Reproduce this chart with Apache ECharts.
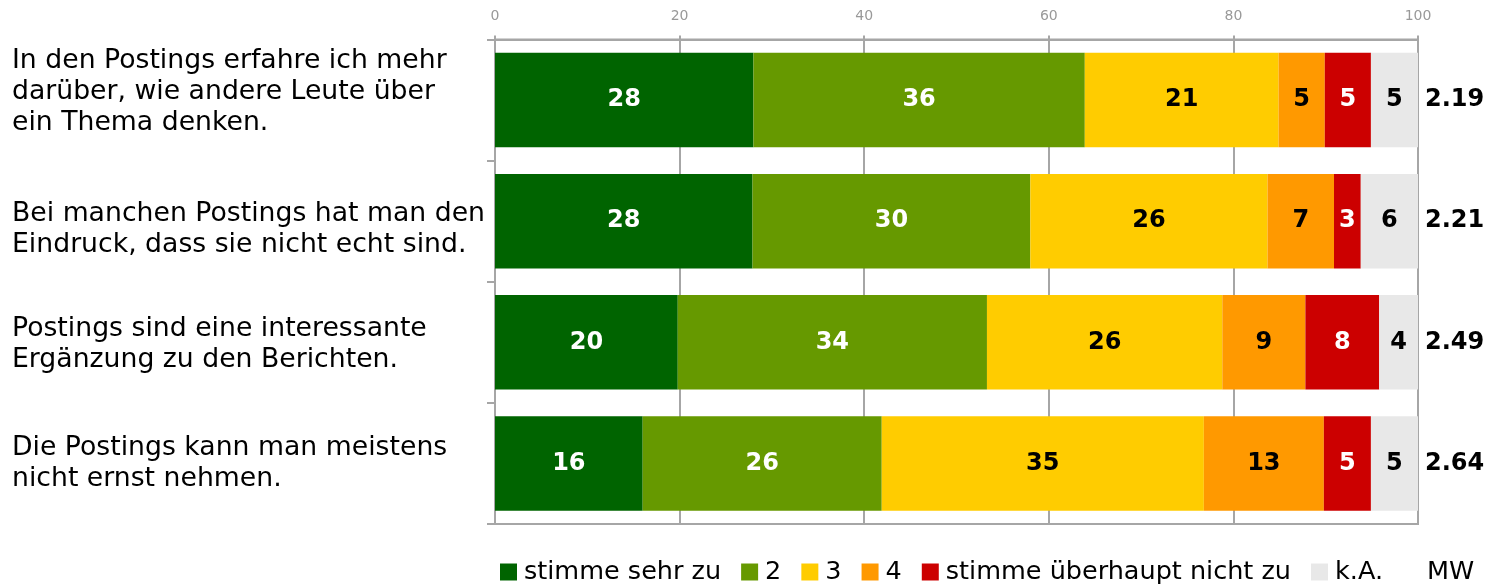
<!DOCTYPE html>
<html>
<head>
<meta charset="utf-8">
<script src="https://cdn.jsdelivr.net/npm/echarts@6/dist/echarts.min.js"></script>
<style>
html,body{margin:0;padding:0;background:#fff;}
#chart{width:1497px;height:588px;}
</style>
</head>
<body>
<div id="chart"></div>
<script>
// ---- data ----
const categories = [
  "In den Postings erfahre ich mehr\ndarüber, wie andere Leute über\nein Thema denken.",
  "Bei manchen Postings hat man den\nEindruck, dass sie nicht echt sind.",
  "Postings sind eine interessante\nErgänzung zu den Berichten.",
  "Die Postings kann man meistens\nnicht ernst nehmen."
];
const seriesNames = ["stimme sehr zu", "2", "3", "4", "stimme überhaupt nicht zu", "k.A."];
const s1 = [28, 27.9, 19.8, 16];
const s2 = [35.9, 30.1, 33.5, 25.9];
const s3 = [21, 25.7, 25.5, 34.9];
const s4 = [5, 7.2, 9.0, 13];
const s5 = [5, 2.9, 8.0, 5.1];
const s6 = [5.1, 6.2, 4.2, 5.1];
const mw = ["2.19", "2.21", "2.49", "2.64"];
const xTicks = [0, 20, 40, 60, 80, 100];

// ---- styles ----
const colors = ["#006400", "#669900", "#ffcc00", "#ff9900", "#cc0000", "#e8e8e8"];
const labelColors = ["#fff", "#fff", "#000", "#000", "#fff", "#000"];
const labelShift = [-8, 8, 2.5, 0];   // vertical nudge of category label blocks (px)
const FONT = "DejaVu Sans";
const allData = [s1, s2, s3, s4, s5, s6];

const barSeries = allData.map((d, i) => ({
  name: seriesNames[i],
  type: 'bar',
  stack: 'total',
  barWidth: '78%',
  data: d,
  itemStyle: { color: colors[i] },
  label: {
    show: true,
    position: 'inside',
    color: labelColors[i],
    fontFamily: FONT,
    fontWeight: 'bold',
    fontSize: 24,
    formatter: p => String(Math.round(p.value))
  },
  emphasis: { disabled: true }
}));

const mwSeries = {
  name: 'MW',
  type: 'scatter',
  symbolSize: 0,
  itemStyle: { opacity: 1, color: '#000' },
  data: categories.map((c, i) => [100, i]),
  label: {
    show: true,
    position: 'right',
    distance: 7,
    color: '#000',
    opacity: 1,
    fontFamily: FONT,
    fontWeight: 'bold',
    fontSize: 24,
    formatter: p => mw[p.dataIndex]
  },
  emphasis: { disabled: true }
};

const rich = {};
labelShift.forEach((s, i) => {
  rich['sp' + i] = { fontSize: 1, lineHeight: Math.max(1, Math.abs(2 * s)) };
});

const chart = echarts.init(document.getElementById('chart'));
chart.setOption({
  animation: false,
  textStyle: { fontFamily: FONT },
  grid: {
    left: 495, right: 79, top: 39.5, bottom: 64,
    containLabel: false,
    outerBoundsMode: 'none',
    show: true, borderColor: '#a6a6a6', borderWidth: 2
  },
  xAxis: {
    type: 'value',
    position: 'top',
    min: xTicks[0], max: xTicks[xTicks.length - 1], interval: 20,
    axisLine: { show: true, lineStyle: { color: '#a6a6a6', width: 2 } },
    axisTick: { show: true, length: 4, lineStyle: { color: '#a6a6a6', width: 2 } },
    splitLine: { show: true, lineStyle: { color: '#a6a6a6', width: 2 } },
    axisLabel: { color: '#999', fontSize: 14, margin: 16, fontFamily: FONT }
  },
  yAxis: {
    type: 'category',
    inverse: true,
    data: categories,
    axisLine: { show: true, lineStyle: { color: '#a6a6a6', width: 2 } },
    axisTick: { show: true, length: 8, lineStyle: { color: '#a6a6a6', width: 2 } },
    axisLabel: {
      align: 'left',
      margin: 483,
      color: '#000',
      fontSize: 26.7,
      lineHeight: 31,
      fontFamily: FONT,
      rich: rich,
      formatter: (v, i) => {
        const s = labelShift[i];
        const sp = '{sp' + i + '| }';
        if (s < 0) return v + '\n' + sp;
        if (s > 0) return sp + '\n' + v;
        return v;
      }
    }
  },
  legend: {
    left: 495,
    top: 554,
    itemWidth: 17,
    itemHeight: 17,
    itemGap: 20,
    selectedMode: false,
    textStyle: { fontSize: 25.5, color: '#000', fontFamily: FONT, padding: [0, 0, 0, 2] },
    data: seriesNames.map(n => ({ name: n, icon: 'rect' })).concat([{ name: 'MW', icon: 'none' }])
  },
  series: barSeries.concat([mwSeries])
});
</script>
</body>
</html>
